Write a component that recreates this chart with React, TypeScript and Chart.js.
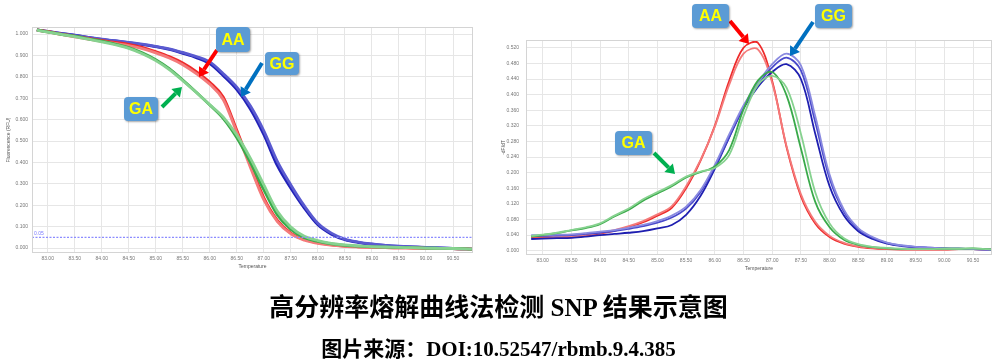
import React, { useEffect, useRef } from "react";
import { Chart, registerables } from "chart.js";

Chart.register(...registerables);

// Temperatures (°C) shared by all curves
const TEMPS = [82.8, 83.0, 83.25, 83.5, 83.75, 84.0, 84.25, 84.5, 84.75, 85.0, 85.25, 85.5, 85.75, 86.0, 86.25, 86.5, 86.75, 87.0, 87.25, 87.5, 87.75, 88.0, 88.25, 88.5, 88.75, 89.0, 89.25, 89.5, 89.75, 90.0, 90.25, 90.5, 90.75, 90.85];

// Left: normalized fluorescence (RFU)
const GG_F1 = [1.020, 1.012, 1.003, 0.995, 0.985, 0.975, 0.968, 0.960, 0.951, 0.941, 0.928, 0.910, 0.890, 0.862, 0.805, 0.740, 0.650, 0.530, 0.385, 0.280, 0.187, 0.109, 0.065, 0.039, 0.026, 0.018, 0.012, 0.008, 0.005, 0.003, 0.001, -0.002, -0.004, -0.005];
const GG_F2 = [1.018, 1.011, 1.002, 0.994, 0.985, 0.976, 0.969, 0.961, 0.953, 0.943, 0.931, 0.914, 0.895, 0.870, 0.815, 0.752, 0.665, 0.548, 0.405, 0.295, 0.197, 0.116, 0.070, 0.042, 0.028, 0.019, 0.013, 0.009, 0.006, 0.003, 0.001, -0.002, -0.004, -0.005];
const AA_F1 = [1.020, 1.012, 1.000, 0.990, 0.980, 0.970, 0.961, 0.952, 0.938, 0.918, 0.895, 0.865, 0.825, 0.775, 0.705, 0.550, 0.390, 0.235, 0.130, 0.070, 0.040, 0.024, 0.015, 0.009, 0.006, 0.004, 0.002, 0.001, 0.000, -0.001, -0.002, -0.003, -0.004, -0.005];
const AA_F2 = [1.018, 1.010, 0.998, 0.987, 0.976, 0.966, 0.956, 0.946, 0.932, 0.912, 0.888, 0.857, 0.815, 0.765, 0.693, 0.540, 0.378, 0.225, 0.124, 0.066, 0.037, 0.022, 0.014, 0.008, 0.005, 0.003, 0.002, 0.001, 0.000, -0.001, -0.002, -0.003, -0.004, -0.005];
const GA_F1 = [1.020, 1.010, 0.999, 0.990, 0.978, 0.967, 0.953, 0.937, 0.912, 0.880, 0.838, 0.785, 0.728, 0.668, 0.605, 0.515, 0.400, 0.272, 0.155, 0.087, 0.048, 0.031, 0.020, 0.013, 0.009, 0.006, 0.004, 0.003, 0.002, 0.000, -0.001, -0.002, -0.004, -0.005];
const GA_F2 = [1.018, 1.009, 0.998, 0.988, 0.976, 0.964, 0.950, 0.933, 0.908, 0.876, 0.834, 0.782, 0.727, 0.670, 0.612, 0.528, 0.420, 0.295, 0.172, 0.098, 0.055, 0.035, 0.022, 0.015, 0.010, 0.007, 0.005, 0.003, 0.002, 0.000, -0.001, -0.002, -0.004, -0.005];
const THRESHOLD = 0.05;

// Right: -dF/dT
const GG_D1 = [0.030, 0.031, 0.032, 0.033, 0.036, 0.040, 0.043, 0.046, 0.050, 0.057, 0.066, 0.092, 0.140, 0.210, 0.290, 0.365, 0.420, 0.458, 0.478, 0.440, 0.300, 0.165, 0.090, 0.050, 0.030, 0.018, 0.012, 0.009, 0.007, 0.006, 0.005, 0.004, 0.003, 0.003];
const GG_D2 = [0.038, 0.038, 0.039, 0.040, 0.043, 0.046, 0.050, 0.056, 0.063, 0.072, 0.085, 0.108, 0.150, 0.215, 0.292, 0.368, 0.425, 0.470, 0.495, 0.462, 0.330, 0.185, 0.100, 0.055, 0.033, 0.020, 0.013, 0.010, 0.008, 0.006, 0.005, 0.004, 0.003, 0.003];
const GG_D3 = [0.040, 0.040, 0.041, 0.042, 0.045, 0.049, 0.053, 0.059, 0.066, 0.076, 0.090, 0.113, 0.155, 0.220, 0.298, 0.372, 0.430, 0.478, 0.505, 0.475, 0.345, 0.195, 0.105, 0.058, 0.035, 0.021, 0.014, 0.010, 0.008, 0.006, 0.005, 0.004, 0.003, 0.003];
const AA_D1 = [0.034, 0.034, 0.033, 0.034, 0.038, 0.044, 0.051, 0.061, 0.073, 0.090, 0.110, 0.160, 0.230, 0.320, 0.435, 0.520, 0.533, 0.435, 0.265, 0.140, 0.070, 0.035, 0.018, 0.010, 0.006, 0.004, 0.003, 0.003, 0.003, 0.003, 0.004, 0.004, 0.003, 0.003];
const AA_D2 = [0.036, 0.036, 0.035, 0.036, 0.040, 0.046, 0.053, 0.063, 0.076, 0.093, 0.114, 0.165, 0.232, 0.318, 0.425, 0.505, 0.516, 0.430, 0.268, 0.145, 0.074, 0.038, 0.020, 0.011, 0.007, 0.005, 0.004, 0.004, 0.003, 0.003, 0.004, 0.004, 0.003, 0.003];
const GA_D1 = [0.036, 0.040, 0.045, 0.052, 0.058, 0.068, 0.088, 0.105, 0.128, 0.147, 0.165, 0.188, 0.201, 0.216, 0.258, 0.362, 0.436, 0.458, 0.398, 0.262, 0.125, 0.060, 0.028, 0.015, 0.009, 0.006, 0.004, 0.004, 0.004, 0.005, 0.005, 0.006, 0.004, 0.003];
const GA_D2 = [0.038, 0.041, 0.046, 0.053, 0.060, 0.070, 0.090, 0.108, 0.132, 0.150, 0.168, 0.190, 0.203, 0.212, 0.245, 0.345, 0.425, 0.448, 0.418, 0.300, 0.150, 0.070, 0.032, 0.017, 0.010, 0.007, 0.005, 0.004, 0.004, 0.005, 0.005, 0.006, 0.004, 0.003];

const X_TICKS = [83.0, 83.5, 84.0, 84.5, 85.0, 85.5, 86.0, 86.5, 87.0, 87.5, 88.0, 88.5, 89.0, 89.5, 90.0, 90.5];
const Y_TICKS_LEFT = [0.0, 0.1, 0.2, 0.3, 0.4, 0.5, 0.6, 0.7, 0.8, 0.9, 1.0];
const Y_TICKS_RIGHT = [0.0, 0.04, 0.08, 0.12, 0.16, 0.2, 0.24, 0.28, 0.32, 0.36, 0.4, 0.44, 0.48, 0.52];

const TICK_FONT = { family: "Liberation Sans, Arial, sans-serif", size: 5 };
const TICK_COLOR = "#777";
const GRID_COLOR = "#e6e6e6";

const pts = (vals: number[]) => vals.map((y, i) => ({ x: TEMPS[i], y }));

const line = (vals: number[], color: string, width: number, smooth: "monotone" | number) => ({
  data: pts(vals),
  borderColor: color,
  borderWidth: width,
  pointRadius: 0,
  fill: false,
  ...(smooth === "monotone" ? { cubicInterpolationMode: "monotone" as const } : { tension: smooth }),
});

const frame = {
  id: "frame",
  afterDraw(chart: any) {
    const { ctx, chartArea: a } = chart;
    ctx.save();
    ctx.strokeStyle = "#d4d4d4";
    ctx.lineWidth = 1;
    ctx.strokeRect(a.left + 0.5, a.top + 0.5, a.right - a.left - 1, a.bottom - a.top - 1);
    ctx.restore();
  },
};

const thresholdLabel = {
  id: "thresholdLabel",
  afterDatasetsDraw(chart: any) {
    const { ctx, chartArea: a, scales } = chart;
    const y = scales.y.getPixelForValue(THRESHOLD);
    ctx.save();
    ctx.fillStyle = "#7a7aff";
    ctx.font = "5px Liberation Sans, Arial, sans-serif";
    ctx.textBaseline = "bottom";
    ctx.fillText(THRESHOLD.toFixed(2), a.left + 2, y - 1);
    ctx.restore();
  },
};

function makeOptions(opts: {
  xMin: number; xMax: number; yMin: number; yMax: number;
  yTicks: number[]; yTitle: string; yWidth: number; xHeight: number; padding: any; tickPad: number;
}) {
  return {
    animation: false as const,
    responsive: false,
    maintainAspectRatio: false,
    layout: { padding: opts.padding },
    plugins: { legend: { display: false }, tooltip: { enabled: false } },
    scales: {
      x: {
        type: "linear" as const,
        min: opts.xMin,
        max: opts.xMax,
        afterBuildTicks: (axis: any) => { axis.ticks = X_TICKS.map((v) => ({ value: v })); },
        afterFit: (s: any) => { s.height = opts.xHeight; },
        ticks: { font: TICK_FONT, color: TICK_COLOR, maxRotation: 0, autoSkip: false, padding: 3, callback: (v: any) => Number(v).toFixed(2) },
        grid: { color: GRID_COLOR, drawTicks: false },
        border: { display: false },
        title: { display: true, text: "Temperature", font: TICK_FONT, color: "#555", padding: { top: 1, bottom: 4 } },
      },
      y: {
        type: "linear" as const,
        min: opts.yMin,
        max: opts.yMax,
        afterBuildTicks: (axis: any) => { axis.ticks = opts.yTicks.map((v) => ({ value: v })); },
        afterFit: (s: any) => { s.width = opts.yWidth; },
        ticks: { font: TICK_FONT, color: TICK_COLOR, autoSkip: false, padding: opts.tickPad, callback: (v: any) => Number(v).toFixed(3) },
        grid: { color: GRID_COLOR, drawTicks: false },
        border: { display: false },
        title: { display: true, text: opts.yTitle, font: TICK_FONT, color: "#555", padding: { top: 0, bottom: 0 } },
      },
    },
  };
}

function LeftChart() {
  const ref = useRef<HTMLCanvasElement | null>(null);
  useEffect(() => {
    if (!ref.current) return;
    const chart = new Chart(ref.current, {
      type: "line",
      data: {
        datasets: [
          {
            data: [{ x: 82.71, y: THRESHOLD }, { x: 90.87, y: THRESHOLD }],
            borderColor: "#8c8cff",
            borderWidth: 1.2,
            borderDash: [2, 1.5],
            pointRadius: 0,
          } as any,
          line(GA_F2, "#86d28f", 2.8, "monotone"),
          line(GA_F1, "#3aaa4a", 2.8, "monotone"),
          line(AA_F2, "#f47a7a", 2.8, "monotone"),
          line(AA_F1, "#ee2a2a", 2.8, "monotone"),
          line(GG_F2, "#5a5ad0", 2.8, "monotone"),
          line(GG_F1, "#2222b8", 2.8, "monotone"),
        ],
      },
      options: makeOptions({
        xMin: 82.71, xMax: 90.87, yMin: -0.023, yMax: 1.033,
        yTicks: Y_TICKS_LEFT, yTitle: "Fluorescence (RFU)", yWidth: 26, xHeight: 21,
        padding: { top: 7, right: 7, left: 6, bottom: 0 }, tickPad: 4,
      }) as any,
      plugins: [frame, thresholdLabel],
    });
    return () => chart.destroy();
  }, []);
  return <canvas ref={ref} width={480} height={254} style={{ position: "absolute", left: 0, top: 20, width: 480, height: 254 }} />;
}

function RightChart() {
  const ref = useRef<HTMLCanvasElement | null>(null);
  useEffect(() => {
    if (!ref.current) return;
    const chart = new Chart(ref.current, {
      type: "line",
      data: {
        datasets: [
          line(GA_D2, "#86d28f", 1.8, 0.35),
          line(GA_D1, "#3aaa4a", 1.8, 0.35),
          line(GG_D3, "#8a8ae0", 1.8, 0.35),
          line(GG_D2, "#4a4acc", 1.8, 0.35),
          line(GG_D1, "#1e1eb0", 1.8, 0.35),
          line(AA_D2, "#f47a7a", 1.8, 0.35),
          line(AA_D1, "#ee2a2a", 1.8, 0.35),
        ],
      },
      options: makeOptions({
        xMin: 82.71, xMax: 90.83, yMin: -0.011, yMax: 0.54,
        yTicks: Y_TICKS_RIGHT, yTitle: "-dF/dT", yWidth: 25, xHeight: 21,
        padding: { top: 10, right: 5, left: 6, bottom: 0 }, tickPad: 7,
      }) as any,
      plugins: [frame],
    });
    return () => chart.destroy();
  }, []);
  return <canvas ref={ref} width={502} height={246} style={{ position: "absolute", left: 495, top: 30, width: 502, height: 246 }} />;
}

function Callout({ x, y, w, h, text }: { x: number; y: number; w: number; h: number; text: string }) {
  return (
    <div
      style={{
        position: "absolute", left: x, top: y, width: w, height: h,
        background: "#5b9bd5", borderRadius: 4,
        boxShadow: "1px 1px 2px rgba(0,0,0,0.35)",
        color: "#ffff00", fontFamily: "Liberation Sans, Arial, sans-serif", fontWeight: 700,
        fontSize: 16, lineHeight: `${h}px`, textAlign: "center",
      }}
    >
      {text}
    </div>
  );
}

function Arrow({ x1, y1, x2, y2, color }: { x1: number; y1: number; x2: number; y2: number; color: string }) {
  const dx = x2 - x1, dy = y2 - y1;
  const len = Math.hypot(dx, dy);
  const ux = dx / len, uy = dy / len;
  const hl = 9, hw = 6;
  const bx = x2 - ux * hl, by = y2 - uy * hl;
  const px = -uy, py = ux;
  return (
    <g>
      <line x1={x1} y1={y1} x2={bx} y2={by} stroke={color} strokeWidth={4} />
      <polygon points={`${x2},${y2} ${bx + px * hw},${by + py * hw} ${bx - px * hw},${by - py * hw}`} fill={color} />
    </g>
  );
}

export default function App() {
  return (
    <div style={{ position: "absolute", left: 0, top: 0, width: 997, height: 364, background: "#fff", overflow: "hidden" }}>
      <LeftChart />
      <RightChart />
      <svg width={997} height={364} style={{ position: "absolute", left: 0, top: 0, pointerEvents: "none" }}>
        <Arrow x1={217} y1={50} x2={199} y2={77} color="#ff0000" />
        <Arrow x1={262} y1={63} x2={241} y2={97} color="#0070c0" />
        <Arrow x1={162} y1={107} x2={182} y2={87} color="#00b050" />
        <Arrow x1={730} y1={21} x2={749} y2={44} color="#ff0000" />
        <Arrow x1={813} y1={22} x2={790} y2={56} color="#0070c0" />
        <Arrow x1={654} y1={153} x2={675} y2={174} color="#00b050" />
      </svg>
      <Callout x={216} y={27} w={34} h={25} text="AA" />
      <Callout x={265} y={52} w={34} h={23} text="GG" />
      <Callout x={124} y={97} w={34} h={24} text="GA" />
      <Callout x={692} y={4} w={37} h={24} text="AA" />
      <Callout x={815} y={4} w={37} h={24} text="GG" />
      <Callout x={615} y={131} w={37} h={24} text="GA" />
      <div
        style={{
          position: "absolute", left: 0, top: 293, width: 997, textAlign: "center",
          fontFamily: "'Liberation Serif', 'Noto Sans CJK SC', serif", fontWeight: 700, fontSize: 25, lineHeight: "30px", color: "#000",
        }}
      >
        高分辨率熔解曲线法检测 SNP 结果示意图
      </div>
      <div
        style={{
          position: "absolute", left: 0, top: 337, width: 997, textAlign: "center",
          fontFamily: "'Liberation Serif', 'Noto Sans CJK SC', serif", fontWeight: 700, fontSize: 21, lineHeight: "24px", color: "#000",
        }}
      >
        图片来源：DOI:10.52547/rbmb.9.4.385
      </div>
    </div>
  );
}
